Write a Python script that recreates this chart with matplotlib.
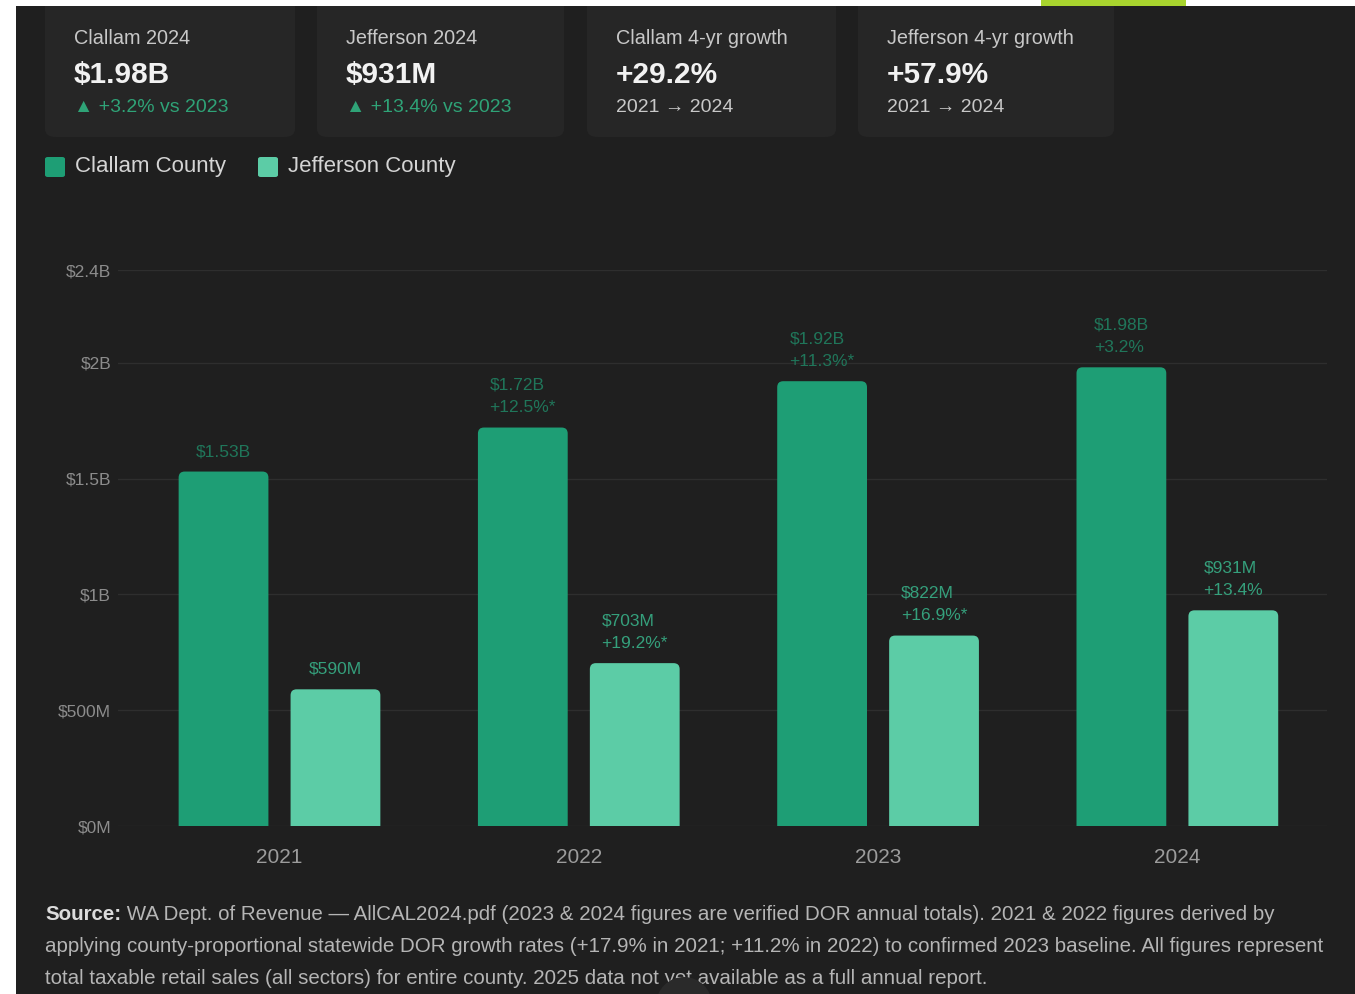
import matplotlib
matplotlib.use("Agg")
import matplotlib.pyplot as plt
from matplotlib.patches import Rectangle, FancyBboxPatch, Ellipse

W, H = 1355, 994

# data
years = ["2021", "2022", "2023", "2024"]
clallam = [1.53e9, 1.72e9, 1.92e9, 1.98e9]
jefferson = [590e6, 703e6, 822e6, 931e6]
clallam_val_txt = ["$1.53B", "$1.72B", "$1.92B", "$1.98B"]
jefferson_val_txt = ["$590M", "$703M", "$822M", "$931M"]
clallam_chg = ["", "+12.5%*", "+11.3%*", "+3.2%"]
jefferson_chg = ["", "+19.2%*", "+16.9%*", "+13.4%"]
y_ticks = [0, 0.5e9, 1e9, 1.5e9, 2e9, 2.4e9]
y_tick_labels = ["$0M", "$500M", "$1B", "$1.5B", "$2B", "$2.4B"]

card_titles = ["Clallam 2024", "Jefferson 2024", "Clallam 4-yr growth", "Jefferson 4-yr growth"]
card_values = ["$1.98B", "$931M", "+29.2%", "+57.9%"]
card_subs = ["▲ +3.2% vs 2023", "▲ +13.4% vs 2023", "2021 → 2024", "2021 → 2024"]
card_sub_green = [True, True, False, False]

footer_bold = "Source:"
footer_lines = [
    " WA Dept. of Revenue — AllCAL2024.pdf (2023 & 2024 figures are verified DOR annual totals). 2021 & 2022 figures derived by",
    "applying county-proportional statewide DOR growth rates (+17.9% in 2021; +11.2% in 2022) to confirmed 2023 baseline. All figures represent",
    "total taxable retail sales (all sectors) for entire county. 2025 data not yet available as a full annual report.",
]

BG = "#1f1f1f"
CARD = "#262626"
C_DARK = "#1e9e75"
C_LIGHT = "#5ccca6"
LBL_DARK = "#20765a"
LBL_LIGHT = "#35a07c"
GREEN_TXT = "#2fa377"

plt.rcParams["font.family"] = ["Liberation Sans", "DejaVu Sans"]


def fx(x):
    return x / W


def fy(y):
    return 1 - y / H


fig = plt.figure(figsize=(W / 100, H / 100), dpi=100, facecolor="white")

# dark panel, white strip at top and a stray lime strip
fig.patches.append(Rectangle((fx(16), 0), 1 - fx(16), fy(6), transform=fig.transFigure,
                             facecolor=BG, edgecolor="none", zorder=-10))
fig.patches.append(Rectangle((0, fy(6)), 1, 1 - fy(6), transform=fig.transFigure,
                             facecolor="white", edgecolor="none", zorder=5))
fig.patches.append(Rectangle((fx(1041), fy(6)), fx(1186) - fx(1041), 1 - fy(6),
                             transform=fig.transFigure, facecolor="#a8d42e", edgecolor="none", zorder=6))

# KPI cards
card_x = [(45, 295), (317, 564), (587, 836), (858, 1114)]
for i, (x0, x1) in enumerate(card_x):
    fig.patches.append(FancyBboxPatch((fx(x0), fy(137)), fx(x1) - fx(x0), fy(-10) - fy(137),
                                      boxstyle="round,pad=0,rounding_size=0.008",
                                      transform=fig.transFigure, facecolor=CARD,
                                      edgecolor="none", zorder=-5))
    tx = fx(x0 + 29)
    fig.text(tx, fy(38), card_titles[i], color="#c8c8c8", fontsize=14.3, va="center", ha="left")
    fig.text(tx, fy(75), card_values[i], color="#f2f2f2", fontsize=21.5, fontweight="bold",
             va="center", ha="left")
    fig.text(tx, fy(108), card_subs[i], color=GREEN_TXT if card_sub_green[i] else "#c8c8c8",
             fontsize=14, va="center", ha="left")

# legend
for sx, color, name in [(45, C_DARK, "Clallam County"), (258, C_LIGHT, "Jefferson County")]:
    fig.patches.append(FancyBboxPatch((fx(sx), fy(177)), fx(20), fy(157) - fy(177),
                                      boxstyle="round,pad=0,rounding_size=0.002",
                                      transform=fig.transFigure, facecolor=color,
                                      edgecolor="none", zorder=-5))
    fig.text(fx(sx + 30), fy(167), name, color="#d4d4d4", fontsize=16, va="center", ha="left")

# chart
ax_left, ax_right, ax_bot, ax_top = 118, 1327, 826, 270
ax = fig.add_axes([fx(ax_left), fy(ax_bot), fx(ax_right) - fx(ax_left), fy(ax_top) - fy(ax_bot)])
ax.set_facecolor("none")
xmin, xmax, ymax = -0.5396, 3.5, 2.4e9
ax.set_xlim(xmin, xmax)
ax.set_ylim(0, ymax)

x = list(range(len(years)))
off, bw = 0.187, 0.30
xa = [i - off for i in x]
xb = [i + off for i in x]
bars_a = ax.bar(xa, clallam, width=bw, color=C_DARK, zorder=2)
bars_b = ax.bar(xb, jefferson, width=bw, color=C_LIGHT, zorder=2)

# swap the plain bars for ones with slightly rounded tops
px_x = (xmax - xmin) / (ax_right - ax_left)
px_y = ymax / (ax_bot - ax_top)
rad = 6 * px_x
for b in list(bars_a) + list(bars_b):
    bx, by = b.get_x(), b.get_y()
    bwid, bh = b.get_width(), b.get_height()
    ext = 10 * px_y
    rp = FancyBboxPatch((bx, by - ext), bwid, bh + ext,
                        boxstyle=f"round,pad=0,rounding_size={rad}",
                        mutation_aspect=px_y / px_x,
                        facecolor=b.get_facecolor(), edgecolor="none", zorder=2)
    b.set_visible(False)
    ax.add_patch(rp)

for i in x:
    for xx, v, vt, ch, col in [(xa[i], clallam[i], clallam_val_txt[i], clallam_chg[i], LBL_DARK),
                               (xb[i], jefferson[i], jefferson_val_txt[i], jefferson_chg[i], LBL_LIGHT)]:
        txt = vt + ("\n" + ch if ch else "")
        ax.annotate(txt, xy=(xx, v), xytext=(0, 9), textcoords="offset points",
                    ha="center", va="bottom", multialignment="left", color=col,
                    fontsize=12.5, linespacing=1.6, clip_on=False)

ax.set_yticks(y_ticks)
ax.set_yticklabels(y_tick_labels)
ax.set_xticks(x)
ax.set_xticklabels(years)
ax.tick_params(axis="y", length=0, pad=5, labelsize=12.5, labelcolor="#8c8c8c")
ax.tick_params(axis="x", length=0, pad=16, labelsize=15, labelcolor="#9c9c9c")
ax.grid(axis="y", color="#2e2e2e", linewidth=1, zorder=0)
ax.set_axisbelow(True)
for s in ax.spines.values():
    s.set_visible(False)

# footer
fig.canvas.draw()
r = fig.canvas.get_renderer()
fs = 14.8
fb = fig.text(fx(45), fy(914), footer_bold, color="#dcdcdc", fontsize=fs,
              fontweight="bold", va="center", ha="left")
bb = fb.get_window_extent(renderer=r)
fig.text(bb.x1 / W, fy(914), footer_lines[0], color="#b5b5b5", fontsize=fs, va="center", ha="left")
fig.text(fx(45), fy(946), footer_lines[1], color="#b5b5b5", fontsize=fs, va="center", ha="left")
fig.text(fx(45), fy(978), footer_lines[2], color="#b5b5b5", fontsize=fs, va="center", ha="left")

# round dark button partly covering the last footer line
fig.patches.append(Ellipse((fx(684), fy(1005)), 56 / W, 56 / H, transform=fig.transFigure,
                           facecolor="#2a2a2a", edgecolor="none", zorder=8))

fig.savefig("out.png", dpi=100, facecolor=fig.get_facecolor())
